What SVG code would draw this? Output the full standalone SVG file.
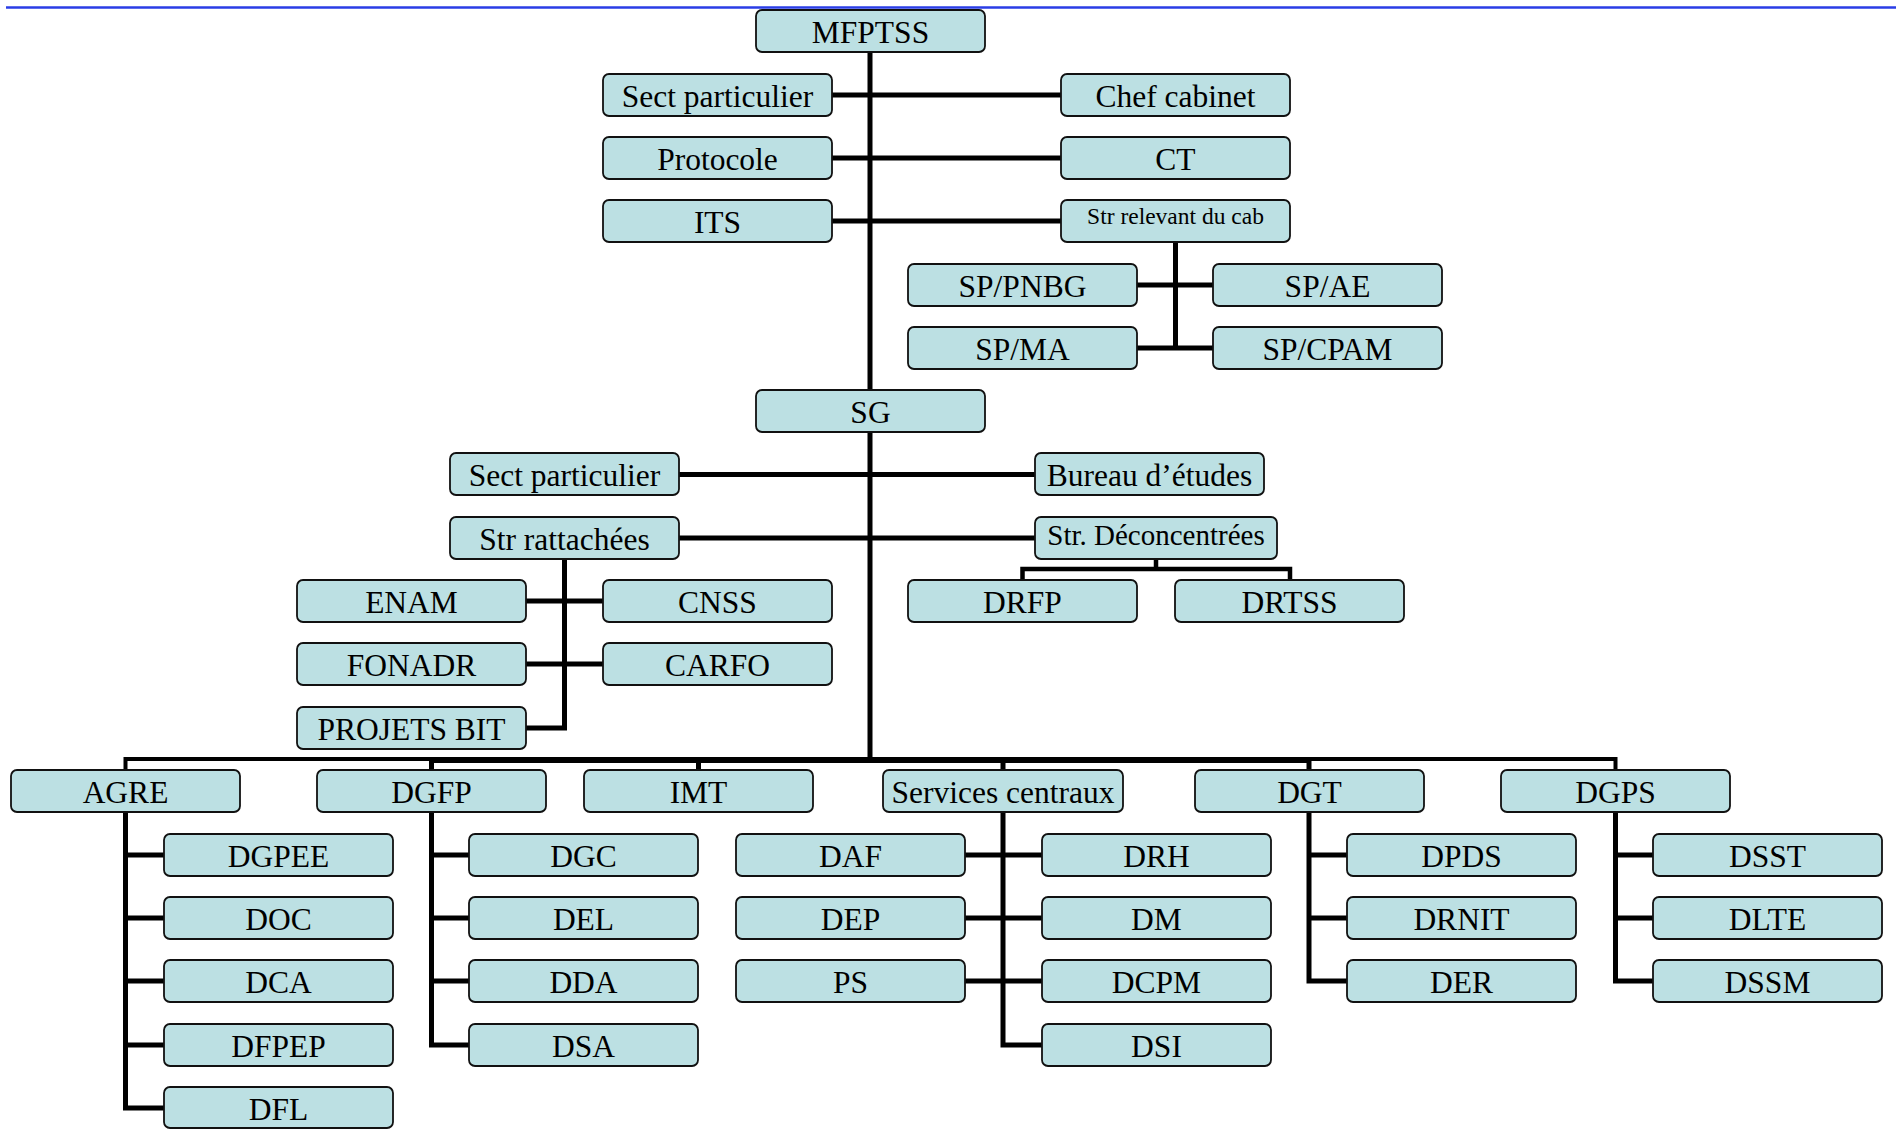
<svg xmlns="http://www.w3.org/2000/svg" width="1896" height="1129" viewBox="0 0 1896 1129">
<style>
.b{fill:#BCE0E3;stroke:#111;stroke-width:1.8}
.t{font-family:"Liberation Serif","Times New Roman",serif;font-size:31.5px;text-anchor:middle;fill:#000}
.c{fill:none;stroke:#000;stroke-width:5;stroke-linecap:butt;stroke-linejoin:miter}
</style>
<rect x="0" y="0" width="1896" height="1129" fill="#fff"/>
<line x1="6" y1="7.5" x2="1896" y2="7.5" stroke="#2a3de6" stroke-width="2.5"/>
<g id="connectors">
<path class="c" d="M870,52 V390 M870,432 V760"/>
<path class="c" d="M832,95 H1061 M832,158 H1061 M832,221 H1061"/>
<path class="c" d="M1175.5,242 V348 M1137,285 H1213 M1137,348 H1213"/>
<path class="c" d="M679,474.5 H1035 M679,538 H1035"/>
<path class="c" d="M564.5,559 V728 H526 M526,601 H603 M526,664 H603"/>
<path class="c" d="M1156,559 V569 M1022.5,580 V569 H1290 V580" style="stroke-width:4.5"/>
<path class="c" d="M125.5,770 V759 H1615.5 V770" style="stroke-width:4"/>
<path class="c" d="M431,760 H1309" style="stroke-width:6"/>
<path class="c" d="M431.5,760 V770 M698.5,760 V770 M1003,760 V770 M1309,760 V770"/>
<path class="c" d="M125.5,812 V1108 H164 M125.5,855 H164 M125.5,918 H164 M125.5,981 H164 M125.5,1045 H164"/>
<path class="c" d="M431.5,812 V1045 H469 M431.5,855 H469 M431.5,918 H469 M431.5,981 H469"/>
<path class="c" d="M1003,812 V1045 H1042 M965,855 H1042 M965,918 H1042 M965,981 H1042"/>
<path class="c" d="M1309,812 V981 H1347 M1309,855 H1347 M1309,918 H1347"/>
<path class="c" d="M1615.5,812 V981 H1653 M1615.5,855 H1653 M1615.5,918 H1653"/>
</g>
<g id="MFPTSS"><rect class="b" x="756" y="10" width="229" height="42" rx="6"/><text class="t" x="870.5" y="42.5">MFPTSS</text></g>
<g id="sect1"><rect class="b" x="603" y="74" width="229" height="42" rx="6"/><text class="t" x="717.5" y="106.5">Sect particulier</text></g>
<g id="chef"><rect class="b" x="1061" y="74" width="229" height="42" rx="6"/><text class="t" x="1175.5" y="106.5">Chef cabinet</text></g>
<g id="protocole"><rect class="b" x="603" y="137" width="229" height="42" rx="6"/><text class="t" x="717.5" y="169.5">Protocole</text></g>
<g id="ct"><rect class="b" x="1061" y="137" width="229" height="42" rx="6"/><text class="t" x="1175.5" y="169.5">CT</text></g>
<g id="its"><rect class="b" x="603" y="200" width="229" height="42" rx="6"/><text class="t" x="717.5" y="232.5">ITS</text></g>
<g id="strcab"><rect class="b" x="1061" y="200" width="229" height="42" rx="6"/><text class="t" x="1175.5" y="224" style="font-size:23.5px">Str relevant du cab</text></g>
<g id="sppnbg"><rect class="b" x="908" y="264" width="229" height="42" rx="6"/><text class="t" x="1022.5" y="296.5">SP/PNBG</text></g>
<g id="spae"><rect class="b" x="1213" y="264" width="229" height="42" rx="6"/><text class="t" x="1327.5" y="296.5">SP/AE</text></g>
<g id="spma"><rect class="b" x="908" y="327" width="229" height="42" rx="6"/><text class="t" x="1022.5" y="359.5">SP/MA</text></g>
<g id="spcpam"><rect class="b" x="1213" y="327" width="229" height="42" rx="6"/><text class="t" x="1327.5" y="359.5">SP/CPAM</text></g>
<g id="sg"><rect class="b" x="756" y="390" width="229" height="42" rx="6"/><text class="t" x="870.5" y="422.5">SG</text></g>
<g id="sect2"><rect class="b" x="450" y="453" width="229" height="42" rx="6"/><text class="t" x="564.5" y="485.5">Sect particulier</text></g>
<g id="bureau"><rect class="b" x="1035" y="453" width="229" height="42" rx="6"/><text class="t" x="1149.5" y="485.5">Bureau d’études</text></g>
<g id="strratt"><rect class="b" x="450" y="517" width="229" height="42" rx="6"/><text class="t" x="564.5" y="549.5">Str rattachées</text></g>
<g id="strdec"><rect class="b" x="1035" y="517" width="242" height="42" rx="6"/><text class="t" x="1156" y="545" style="font-size:29px">Str. Déconcentrées</text></g>
<g id="enam"><rect class="b" x="297" y="580" width="229" height="42" rx="6"/><text class="t" x="411.5" y="612.5">ENAM</text></g>
<g id="cnss"><rect class="b" x="603" y="580" width="229" height="42" rx="6"/><text class="t" x="717.5" y="612.5">CNSS</text></g>
<g id="fonadr"><rect class="b" x="297" y="643" width="229" height="42" rx="6"/><text class="t" x="411.5" y="675.5">FONADR</text></g>
<g id="carfo"><rect class="b" x="603" y="643" width="229" height="42" rx="6"/><text class="t" x="717.5" y="675.5">CARFO</text></g>
<g id="projets"><rect class="b" x="297" y="707" width="229" height="42" rx="6"/><text class="t" x="411.5" y="739.5">PROJETS BIT</text></g>
<g id="drfp"><rect class="b" x="908" y="580" width="229" height="42" rx="6"/><text class="t" x="1022.5" y="612.5">DRFP</text></g>
<g id="drtss"><rect class="b" x="1175" y="580" width="229" height="42" rx="6"/><text class="t" x="1289.5" y="612.5">DRTSS</text></g>
<g id="agre"><rect class="b" x="11" y="770" width="229" height="42" rx="6"/><text class="t" x="125.5" y="802.5">AGRE</text></g>
<g id="dgfp"><rect class="b" x="317" y="770" width="229" height="42" rx="6"/><text class="t" x="431.5" y="802.5">DGFP</text></g>
<g id="imt"><rect class="b" x="584" y="770" width="229" height="42" rx="6"/><text class="t" x="698.5" y="802.5">IMT</text></g>
<g id="services"><rect class="b" x="883" y="770" width="240" height="42" rx="6"/><text class="t" x="1003" y="802.5">Services centraux</text></g>
<g id="dgt"><rect class="b" x="1195" y="770" width="229" height="42" rx="6"/><text class="t" x="1309.5" y="802.5">DGT</text></g>
<g id="dgps"><rect class="b" x="1501" y="770" width="229" height="42" rx="6"/><text class="t" x="1615.5" y="802.5">DGPS</text></g>
<g id="dgpee"><rect class="b" x="164" y="834" width="229" height="42" rx="6"/><text class="t" x="278.5" y="866.5">DGPEE</text></g>
<g id="doc"><rect class="b" x="164" y="897" width="229" height="42" rx="6"/><text class="t" x="278.5" y="929.5">DOC</text></g>
<g id="dca"><rect class="b" x="164" y="960" width="229" height="42" rx="6"/><text class="t" x="278.5" y="992.5">DCA</text></g>
<g id="dfpep"><rect class="b" x="164" y="1024" width="229" height="42" rx="6"/><text class="t" x="278.5" y="1056.5">DFPEP</text></g>
<g id="dfl"><rect class="b" x="164" y="1087" width="229" height="41" rx="6"/><text class="t" x="278.5" y="1119.5">DFL</text></g>
<g id="dgc"><rect class="b" x="469" y="834" width="229" height="42" rx="6"/><text class="t" x="583.5" y="866.5">DGC</text></g>
<g id="del"><rect class="b" x="469" y="897" width="229" height="42" rx="6"/><text class="t" x="583.5" y="929.5">DEL</text></g>
<g id="dda"><rect class="b" x="469" y="960" width="229" height="42" rx="6"/><text class="t" x="583.5" y="992.5">DDA</text></g>
<g id="dsa"><rect class="b" x="469" y="1024" width="229" height="42" rx="6"/><text class="t" x="583.5" y="1056.5">DSA</text></g>
<g id="daf"><rect class="b" x="736" y="834" width="229" height="42" rx="6"/><text class="t" x="850.5" y="866.5">DAF</text></g>
<g id="dep"><rect class="b" x="736" y="897" width="229" height="42" rx="6"/><text class="t" x="850.5" y="929.5">DEP</text></g>
<g id="ps"><rect class="b" x="736" y="960" width="229" height="42" rx="6"/><text class="t" x="850.5" y="992.5">PS</text></g>
<g id="drh"><rect class="b" x="1042" y="834" width="229" height="42" rx="6"/><text class="t" x="1156.5" y="866.5">DRH</text></g>
<g id="dm"><rect class="b" x="1042" y="897" width="229" height="42" rx="6"/><text class="t" x="1156.5" y="929.5">DM</text></g>
<g id="dcpm"><rect class="b" x="1042" y="960" width="229" height="42" rx="6"/><text class="t" x="1156.5" y="992.5">DCPM</text></g>
<g id="dsi"><rect class="b" x="1042" y="1024" width="229" height="42" rx="6"/><text class="t" x="1156.5" y="1056.5">DSI</text></g>
<g id="dpds"><rect class="b" x="1347" y="834" width="229" height="42" rx="6"/><text class="t" x="1461.5" y="866.5">DPDS</text></g>
<g id="drnit"><rect class="b" x="1347" y="897" width="229" height="42" rx="6"/><text class="t" x="1461.5" y="929.5">DRNIT</text></g>
<g id="der"><rect class="b" x="1347" y="960" width="229" height="42" rx="6"/><text class="t" x="1461.5" y="992.5">DER</text></g>
<g id="dsst"><rect class="b" x="1653" y="834" width="229" height="42" rx="6"/><text class="t" x="1767.5" y="866.5">DSST</text></g>
<g id="dlte"><rect class="b" x="1653" y="897" width="229" height="42" rx="6"/><text class="t" x="1767.5" y="929.5">DLTE</text></g>
<g id="dssm"><rect class="b" x="1653" y="960" width="229" height="42" rx="6"/><text class="t" x="1767.5" y="992.5">DSSM</text></g>
</svg>
